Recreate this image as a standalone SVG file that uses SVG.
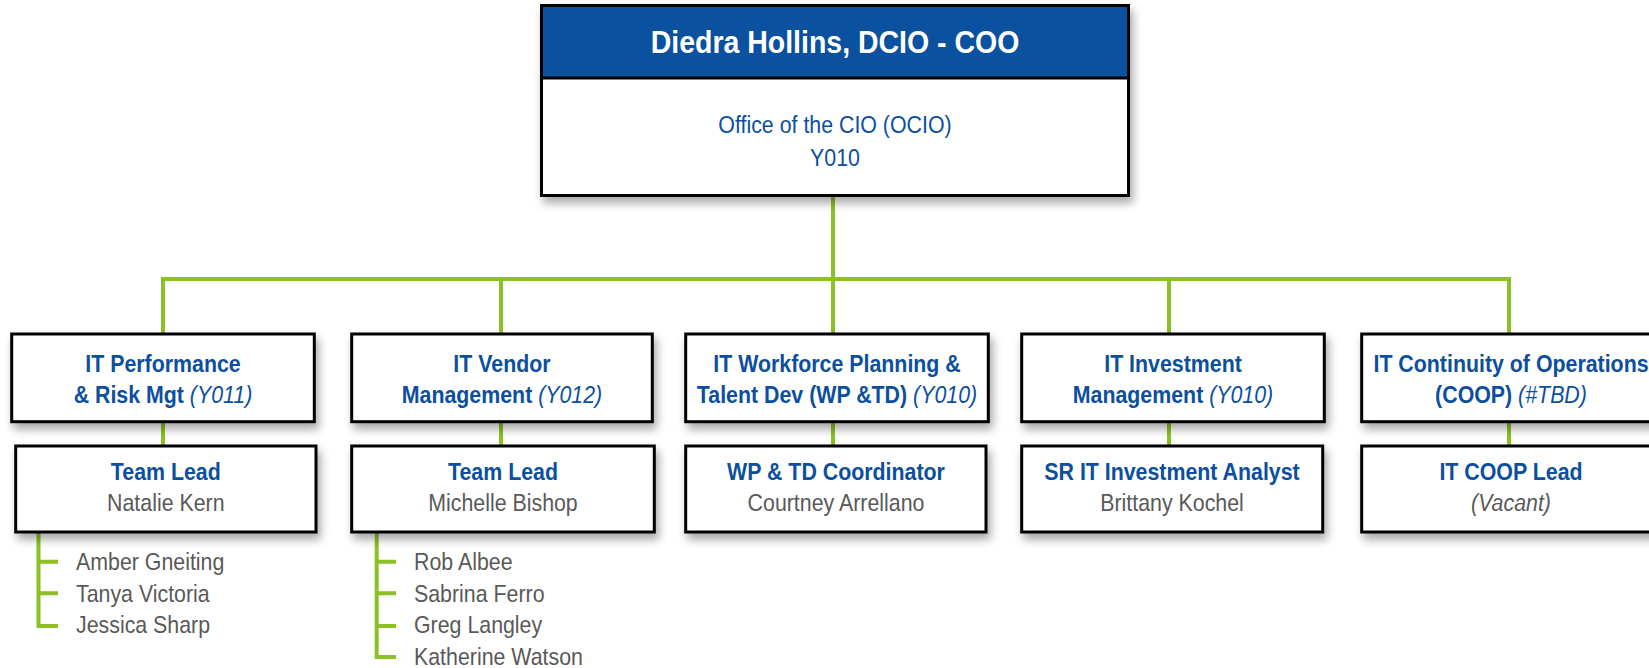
<svg xmlns="http://www.w3.org/2000/svg" width="1649" height="668" viewBox="0 0 1649 668">
<defs>
<filter id="sh" x="-10%" y="-20%" width="130%" height="160%">
<feDropShadow dx="3" dy="6" stdDeviation="5" flood-color="#000" flood-opacity="0.35"/>
</filter>
</defs>
<style>
.box{fill:#fff;stroke:#000;stroke-width:3}
.hdr{fill:#0A51A0}
.ln{stroke:#000;stroke-width:3}
.t{font-family:"Liberation Sans",Arial,sans-serif;font-size:24px;text-anchor:middle}
.b{font-weight:bold;fill:#0B4F9E}
.i{font-style:italic;font-weight:normal}
.bl{fill:#0B4F9E}
.g{fill:#595959}
.w{fill:#fff;font-weight:bold;font-size:32px}
.n{font-family:"Liberation Sans",Arial,sans-serif;font-size:24px;fill:#595959}
.c{fill:none;stroke:#8CC125;stroke-width:4}
</style>
<rect width="1649" height="668" fill="#fff"/>

<g id="connectors">
<path class="c" d="M833 196 V279 M163 334 V279 H1509 V334 M501 279 V334 M833 279 V334 M1169 279 V334"/>
<path class="c" d="M163 421 V446 M501 421 V446 M833 421 V446 M1169 421 V446 M1509 421 V446"/>
<path class="c" d="M38.5 532 V626 H58 M38.5 561.7 H58 M38.5 593.3 H58"/>
<path class="c" d="M376.7 532 V657 H396 M376.7 561.7 H396 M376.7 593.3 H396 M376.7 626 H396"/>
</g>

<g id="top">
<rect class="box" x="541.5" y="5.5" width="587" height="190" filter="url(#sh)"/>
<rect class="hdr" x="541.5" y="5.5" width="587" height="72.5"/>
<rect x="541.5" y="5.5" width="587" height="190" fill="none" stroke="#000" stroke-width="3"/>
<line class="ln" x1="541.5" y1="78" x2="1128.5" y2="78"/>
<text class="t w" transform="translate(835,53.3) scale(0.89,1)">Diedra Hollins, DCIO - COO</text>
<text class="t bl" transform="translate(835,132.7) scale(0.89,1)">Office of the CIO (OCIO)</text>
<text class="t bl" transform="translate(835,165.7) scale(0.89,1)">Y010</text>
</g>

<g id="perf">
<rect class="box" x="11.7" y="334" width="302.6" height="87.7" filter="url(#sh)"/>
<text class="t b" transform="translate(163,372.3) scale(0.89,1)">IT Performance</text>
<text class="t b" transform="translate(163,402.7) scale(0.89,1)">&amp; Risk Mgt <tspan class="i">(Y011)</tspan></text>
</g>
<g id="vendor">
<rect class="box" x="351.7" y="334" width="300.6" height="87.7" filter="url(#sh)"/>
<text class="t b" transform="translate(502,372.3) scale(0.89,1)">IT Vendor</text>
<text class="t b" transform="translate(502,402.7) scale(0.89,1)">Management <tspan class="i">(Y012)</tspan></text>
</g>
<g id="workforce">
<rect class="box" x="685.7" y="334" width="302.6" height="87.7" filter="url(#sh)"/>
<text class="t b" transform="translate(837,372.3) scale(0.89,1)">IT Workforce Planning &amp;</text>
<text class="t b" transform="translate(837,402.7) scale(0.89,1)">Talent Dev (WP &amp;TD) <tspan class="i">(Y010)</tspan></text>
</g>
<g id="investment">
<rect class="box" x="1021.7" y="334" width="302.6" height="87.7" filter="url(#sh)"/>
<text class="t b" transform="translate(1173,372.3) scale(0.89,1)">IT Investment</text>
<text class="t b" transform="translate(1173,402.7) scale(0.89,1)">Management <tspan class="i">(Y010)</tspan></text>
</g>
<g id="coop">
<rect class="box" x="1361.7" y="334" width="302" height="87.7" filter="url(#sh)"/>
<text class="t b" transform="translate(1511,372.3) scale(0.89,1)">IT Continuity of Operations</text>
<text class="t b" transform="translate(1511,402.7) scale(0.89,1)">(COOP) <tspan class="i">(#TBD)</tspan></text>
</g>

<g id="perf-lead">
<rect class="box" x="15.7" y="446" width="300.3" height="86" filter="url(#sh)"/>
<text class="t b" transform="translate(165.8,480) scale(0.89,1)">Team Lead</text>
<text class="t g" transform="translate(165.8,511) scale(0.89,1)">Natalie Kern</text>
</g>
<g id="vendor-lead">
<rect class="box" x="351.7" y="446" width="302.6" height="86" filter="url(#sh)"/>
<text class="t b" transform="translate(503,480) scale(0.89,1)">Team Lead</text>
<text class="t g" transform="translate(503,511) scale(0.89,1)">Michelle Bishop</text>
</g>
<g id="wptd-coord">
<rect class="box" x="685.7" y="446" width="300.3" height="86" filter="url(#sh)"/>
<text class="t b" transform="translate(836,480) scale(0.89,1)">WP &amp; TD Coordinator</text>
<text class="t g" transform="translate(836,511) scale(0.89,1)">Courtney Arrellano</text>
</g>
<g id="sr-analyst">
<rect class="box" x="1021.7" y="446" width="301" height="86" filter="url(#sh)"/>
<text class="t b" transform="translate(1172,480) scale(0.89,1)">SR IT Investment Analyst</text>
<text class="t g" transform="translate(1172,511) scale(0.89,1)">Brittany Kochel</text>
</g>
<g id="coop-lead">
<rect class="box" x="1361.7" y="446" width="302" height="86" filter="url(#sh)"/>
<text class="t b" transform="translate(1511,480) scale(0.89,1)">IT COOP Lead</text>
<text class="t g i" transform="translate(1511,511) scale(0.89,1)">(Vacant)</text>
</g>

<g id="perf-team">
<text class="n" transform="translate(76,570) scale(0.89,1)">Amber Gneiting</text>
<text class="n" transform="translate(76,601.7) scale(0.89,1)">Tanya Victoria</text>
<text class="n" transform="translate(76,633) scale(0.89,1)">Jessica Sharp</text>
</g>
<g id="vendor-team">
<text class="n" transform="translate(414,570) scale(0.89,1)">Rob Albee</text>
<text class="n" transform="translate(414,601.7) scale(0.89,1)">Sabrina Ferro</text>
<text class="n" transform="translate(414,633) scale(0.89,1)">Greg Langley</text>
<text class="n" transform="translate(414,665) scale(0.89,1)">Katherine Watson</text>
</g>
</svg>
